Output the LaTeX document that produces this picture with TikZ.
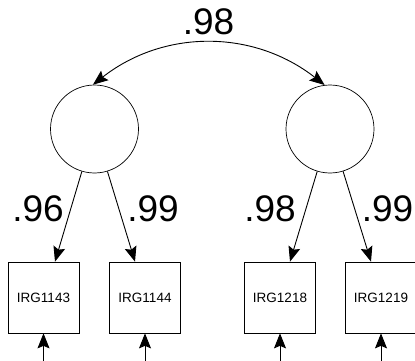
\documentclass[tikz,border=0pt]{standalone}
\usepackage{fontspec}
\setmainfont{Liberation Sans}
\usetikzlibrary{arrows.meta}
\begin{document}
\begin{tikzpicture}[x=1pt,y=1pt,
  factor/.style={circle,draw,line width=0.7pt,minimum size=88pt,inner sep=0pt},
  indicator/.style={rectangle,draw,line width=0.7pt,minimum width=71pt,minimum height=71pt,inner sep=0pt,font=\fontsize{13.5}{16}\selectfont},
  coef/.style={font=\fontsize{37}{40}\selectfont,inner sep=0pt},
  path/.style={line width=0.9pt,-{Stealth[length=15pt,width=12pt,inset=2.5pt]}},
  twoway/.style={line width=0.9pt,{Stealth[length=15pt,width=12pt,inset=2.5pt]}-{Stealth[length=15pt,width=12pt,inset=2.5pt]}}]
\useasboundingbox (0,0) rectangle (415,-361);

% latent factors
\node[factor] (f1) at (94.5,-129) {};
\node[factor] (f2) at (330,-129) {};

% observed indicators
\node[indicator] (b1) at (43.5,-297.5) {IRG1143};
\node[indicator] (b2) at (145,-297.5) {IRG1144};
\node[indicator] (b3) at (280,-297.5) {IRG1218};
\node[indicator] (b4) at (381,-297.5) {IRG1219};

% error terms enter from below
\foreach \b in {b1,b2,b3,b4}{
  \coordinate (e\b) at ([yshift=-40pt]\b.south);
  \draw[path] (e\b) -- (\b.south);
}

% factor covariance
\draw[twoway] (f1.92) to[out=38,in=142] (f2.97);
\node[coef] (r) at (208.5,-22) {.98};

% loadings
\draw[path] (f1) -- ([xshift=11.5pt]b1.north);
\draw[path] (f1) -- ([xshift=-10pt]b2.north);
\draw[path] (f2) -- ([xshift=10pt]b3.north);
\draw[path] (f2) -- ([xshift=-10pt]b4.north);

\node[coef] (l1) at (38,-208.5) {.96};
\node[coef] (l2) at (153,-208.5) {.99};
\node[coef] (l3) at (270,-208.5) {.98};
\node[coef] (l4) at (387.5,-208.5) {.99};
\end{tikzpicture}
\end{document}
